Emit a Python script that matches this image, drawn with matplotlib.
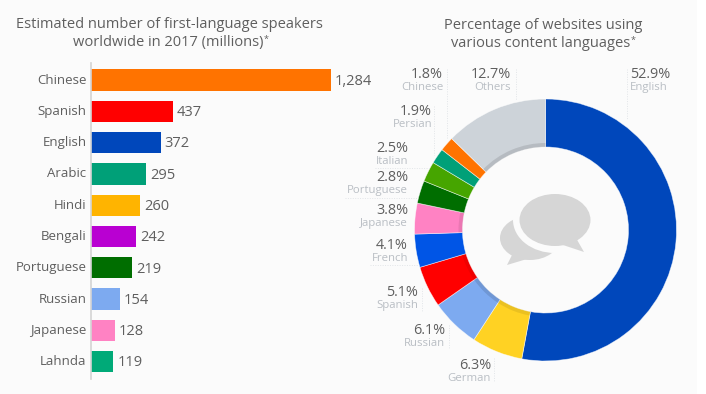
import matplotlib
matplotlib.use("Agg")
import matplotlib.pyplot as plt
from matplotlib.patches import Ellipse, Polygon, Rectangle

plt.rcParams['font.family'] = ['Open Sans', 'DejaVu Sans']

bar_langs = ["Chinese", "Spanish", "English", "Arabic", "Hindi", "Bengali", "Portuguese", "Russian", "Japanese", "Lahnda"]
bar_vals = [1284, 437, 372, 295, 260, 242, 219, 154, 128, 119]
bar_cols = ["#ff7300", "#ff0000", "#0047bb", "#00a078", "#ffb400", "#b900d2", "#006e00", "#7daaf0", "#ff82c3", "#00aa78"]

pie_langs = ["English", "German", "Russian", "Spanish", "French", "Japanese", "Portuguese", "Italian", "Persian", "Chinese", "Others"]
pie_vals = [52.9, 6.3, 6.1, 5.1, 4.1, 3.8, 2.8, 2.5, 1.9, 1.8, 12.7]
pie_cols = ["#0047bb", "#ffd223", "#7daaf0", "#ff0000", "#0055e6", "#ff82c3", "#006e00", "#46a500", "#00a078", "#ff7300", "#cdd3d9"]
shade_cols = ["#00000000", "#00000014", "#0000001c", "#00000010", "#00000000", "#00000014",
              "#00000000", "#00000000", "#00000000", "#00000000", "#0000001c"]
pie_lab = [(671, 75), (491, 366), (445, 331), (418, 293), (408, 246), (408, 211), (408, 178), (408, 149), (432, 112), (443, 75), (511, 75)]

W, H = 706, 394
BG = "#fbfbfb"
fig = plt.figure(figsize=(W / 100, H / 100), dpi=100, facecolor=BG)
txt = "#5f5f5f"
lab = "#b9bec4"

px = fig.add_axes([0, 0, 1, 1], zorder=5)
px.set_xlim(0, W)
px.set_ylim(H, 0)
px.axis("off")
px.add_patch(Rectangle((697, 0), 9, H, color="white", lw=0))

# bars
ax = fig.add_axes([91 / W, 1 - 378.8 / H, 240 / W * 1.1, (378.8 - 62.8) / H])
ax.set_facecolor("none")
ypos = list(range(len(bar_vals)))
ax.barh(ypos, bar_vals, height=0.68, color=bar_cols, linewidth=0)
ax.set_xlim(0, 1284 * 1.1)
ax.set_ylim(9.55, -0.55)
ax.set_yticks(ypos, bar_langs)
ax.set_xticks([])
ax.tick_params(axis="y", length=0, pad=3.2, labelsize=9.5, labelcolor=txt)
for t in ax.get_yticklabels():
    t.set_verticalalignment("center")
for s in ["top", "right", "bottom"]:
    ax.spines[s].set_visible(False)
ax.spines["left"].set_color("#d4d4d4")
ax.spines["left"].set_linewidth(1.2)
for y, v in zip(ypos, bar_vals):
    ax.annotate(f"{v:,}", (v, y), xytext=(3, -1), textcoords="offset points",
                va="center", ha="left", fontsize=10.5, color=txt)

# donut
R = 131
cx, cy = 545.5, 230
pa = fig.add_axes([(cx - R) / W, 1 - (cy + R) / H, 2 * R / W, 2 * R / H])
pa.pie(pie_vals, colors=pie_cols, startangle=90, counterclock=False, radius=1,
       wedgeprops=dict(width=48 / 131, linewidth=0.5, edgecolor="#ffffff99"))
pa.pie(pie_vals, colors=shade_cols, startangle=90, counterclock=False,
       radius=87 / 131, wedgeprops=dict(width=4 / 131, linewidth=0))
pa.set_xlim(-1, 1)
pa.set_ylim(-1, 1)
pa.set_aspect("equal")

# speech bubble icon
ic = "#d6d6d6"
px.add_patch(Ellipse((530, 238), 60, 44, color=ic, lw=0))
px.add_patch(Polygon([[513, 253], [507, 265], [527, 259]], color=ic, lw=0))
px.add_patch(Ellipse((555, 220), 84, 66, color=BG, lw=0))
px.add_patch(Polygon([[570, 240], [590, 256], [560, 256]], color=BG, lw=0))
px.add_patch(Ellipse((555, 220), 71, 52, color=ic, lw=0))
px.add_patch(Polygon([[576, 238], [584, 252], [563, 245]], color=ic, lw=0))

# titles
def title(x, y, line, star=False):
    t = px.text(x, y, line, ha="center", va="center", fontsize=10.5, color=txt)
    if star:
        px.annotate("*", xy=(1, 1), xycoords=t, xytext=(0, -7), textcoords="offset points",
                    fontsize=6.5, color=txt, ha="left", va="bottom")

title(169.5, 24.5, "Estimated number of first-language speakers")
title(168, 42, "worldwide in 2017 (millions)", True)
title(543.5, 25, "Percentage of websites using")
title(541, 43, "various content languages", True)

# donut labels
for (x, y), n, v in zip(pie_lab, pie_langs, pie_vals):
    if n == "English":
        px.text(630, y - 0.5, f"{v}%", ha="left", va="center", fontsize=10.4, color=txt)
        px.text(630, y + 12.5, n, ha="left", va="center", fontsize=8.2, color=lab)
    else:
        px.text(x, y - 0.5, f"{v}%", ha="right", va="center", fontsize=10.4, color=txt)
        px.text(x, y + 12.5, n, ha="right", va="center", fontsize=8.2, color=lab)

# leader lines (dotted)
for xs, ys in [((626.7, 626.7), (69, 120)), ((515.7, 515.7), (69, 100)), ((447, 447), (69, 138)),
               ((434, 434), (106, 155)), ((375, 430), (168, 168)), ((345, 417), (198, 198)),
               ((370, 418), (265, 265)), ((422, 422), (288, 312)), ((449, 449), (325, 348)),
               ((494, 494), (358, 382))]:
    px.plot(xs, ys, color="#e2e5e8", lw=0.7, ls=(0, (1, 1.5)))

fig.savefig("out.png", dpi=100, facecolor=BG)
